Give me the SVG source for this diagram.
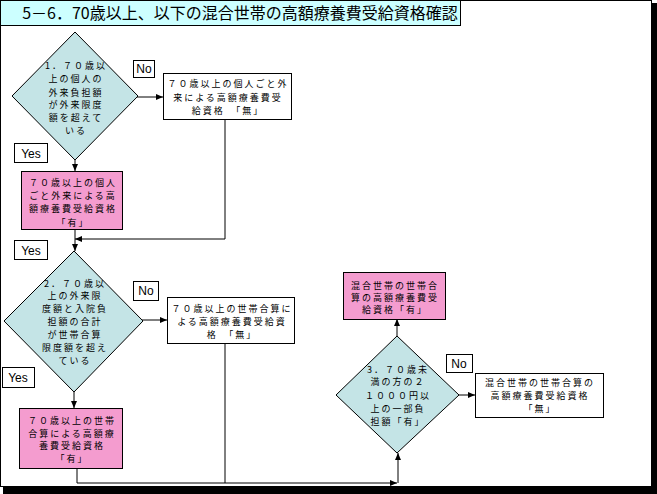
<svg xmlns="http://www.w3.org/2000/svg" width="657" height="494" viewBox="0 0 657 494">
<defs>
<marker id="arr" markerWidth="7" markerHeight="6" refX="7" refY="3" orient="auto" markerUnits="userSpaceOnUse">
<path d="M0,0 L7,3 L0,6 Z" fill="#000"/>
</marker>
<style>
text{font-family:"Noto Sans CJK JP","Liberation Sans",sans-serif;font-size:9px;letter-spacing:2px;fill:#000;text-anchor:middle}
.dia{fill:#C4E4E6;stroke:#000;stroke-width:1}
.pink{fill:#F49CCF;stroke:#000;stroke-width:1}
.box{fill:#fff;stroke:#000;stroke-width:1}
.lbl{fill:#fff;stroke:#000;stroke-width:1}
.ln{fill:none;stroke:#000;stroke-width:1}
.lt{font-family:"Liberation Sans",sans-serif;font-size:12px;letter-spacing:0}
</style>
</defs>
<rect x="0" y="0" width="657" height="494" fill="#fff"/>
<rect x="0.5" y="0.5" width="651" height="486" fill="#fff" stroke="#000"/>
<rect x="652" y="3" width="5" height="491" fill="#000"/>
<rect x="3" y="487" width="654" height="7" fill="#000"/>

<g id="title">
<rect x="0.5" y="0.5" width="460" height="25" fill="#CCFFFF" stroke="#000"/>
<text x="240" y="19" style="font-size:16px;letter-spacing:0">5－6．70歳以上、以下の混合世帯の高額療養費受給資格確認</text>
</g>

<g id="connectors">
<line class="ln" x1="137" y1="97" x2="163" y2="97" marker-end="url(#arr)"/>
<line class="ln" x1="75" y1="160" x2="75" y2="171" marker-end="url(#arr)"/>
<polyline class="ln" points="225,119 225,239 75,239" marker-end="url(#arr)"/>
<line class="ln" x1="75" y1="229" x2="75" y2="251" marker-end="url(#arr)"/>
<line class="ln" x1="142" y1="320" x2="167" y2="320" marker-end="url(#arr)"/>
<line class="ln" x1="74" y1="392" x2="74" y2="408" marker-end="url(#arr)"/>
<polyline class="ln" points="77,468 77,483 397,483" marker-end="url(#arr)"/>
<line class="ln" x1="225" y1="343" x2="225" y2="483"/>
<line class="ln" x1="398" y1="483" x2="398" y2="453" marker-end="url(#arr)"/>
<line class="ln" x1="397" y1="336" x2="397" y2="319" marker-end="url(#arr)"/>
<line class="ln" x1="459" y1="395" x2="475" y2="395" marker-end="url(#arr)"/>
</g>

<g id="q1">
<polygon class="dia" points="75,32 138,96 75,160 12,96"/>
<text x="76" y="69">1．７０歳以</text>
<text x="76" y="82">上の個人の</text>
<text x="76" y="96">外来負担額</text>
<text x="76" y="108">が外来限度</text>
<text x="76" y="121">額を超えて</text>
<text x="76" y="134">いる</text>
</g>
<g id="no1">
<rect class="lbl" x="133.5" y="60.5" width="21" height="17"/>
<text class="lt" x="144" y="73">No</text>
</g>
<g id="r1no">
<rect class="box" x="163.5" y="73.5" width="128" height="46"/>
<text x="228" y="87">７０歳以上の個人ごと外</text>
<text x="228" y="101">来による高額療養費受</text>
<text x="228" y="114">給資格　「無」</text>
</g>
<g id="yes1">
<rect class="lbl" x="14.5" y="143.5" width="33" height="19"/>
<text class="lt" x="31" y="158">Yes</text>
</g>
<g id="r1yes">
<rect class="pink" x="21.5" y="171.5" width="101" height="58"/>
<text x="73" y="186">７０歳以上の個人</text>
<text x="73" y="199">ごと外来による高</text>
<text x="73" y="212">額療養費受給資格</text>
<text x="73" y="226">「有」</text>
</g>
<g id="yes2">
<rect class="lbl" x="14.5" y="240.5" width="33" height="19"/>
<text class="lt" x="31" y="255">Yes</text>
</g>

<g id="q2">
<polygon class="dia" points="74,251 143,321 74,392 4,321"/>
<text x="75" y="287">2．７０歳以</text>
<text x="75" y="299">上の外来限</text>
<text x="75" y="312">度額と入院負</text>
<text x="75" y="325">担額の合計</text>
<text x="75" y="338">が世帯合算</text>
<text x="75" y="351">限度額を超え</text>
<text x="75" y="364">ている</text>
</g>
<g id="no2">
<rect class="lbl" x="133.5" y="281.5" width="25" height="19"/>
<text class="lt" x="146" y="295">No</text>
</g>
<g id="r2no">
<rect class="box" x="167.5" y="297.5" width="127" height="46"/>
<text x="232" y="312">７０歳以上の世帯合算に</text>
<text x="232" y="325">よる高額療養費受給資</text>
<text x="232" y="338">格　「無」</text>
</g>
<g id="yes3">
<rect class="lbl" x="2.5" y="367.5" width="32" height="20"/>
<text class="lt" x="18" y="382">Yes</text>
</g>
<g id="r2yes">
<rect class="pink" x="19.5" y="408.5" width="103" height="60"/>
<text x="72" y="424">７０歳以上の世帯</text>
<text x="72" y="437">合算による高額療</text>
<text x="72" y="449">養費受給資格</text>
<text x="72" y="462">「有」</text>
</g>

<g id="q3">
<polygon class="dia" points="397,336 459,395 397,453 336,395"/>
<text x="398" y="373">3．７０歳未</text>
<text x="398" y="385">満の方の２</text>
<text x="398" y="399">１０００円以</text>
<text x="398" y="412">上の一部負</text>
<text x="398" y="425">担額「有」</text>
</g>
<g id="r3yes">
<rect class="pink" x="343.5" y="272.5" width="102" height="47"/>
<text x="395" y="289">混合世帯の世帯合</text>
<text x="395" y="301">算の高額療養費受</text>
<text x="395" y="313">給資格「有」</text>
</g>
<g id="no3">
<rect class="lbl" x="446.5" y="354.5" width="26" height="18"/>
<text class="lt" x="459" y="368">No</text>
</g>
<g id="r3no">
<rect class="box" x="475.5" y="373.5" width="128" height="44"/>
<text x="540" y="386">混合世帯の世帯合算の</text>
<text x="540" y="399">高額療養費受給資格</text>
<text x="540" y="412">「無」</text>
</g>
</svg>
